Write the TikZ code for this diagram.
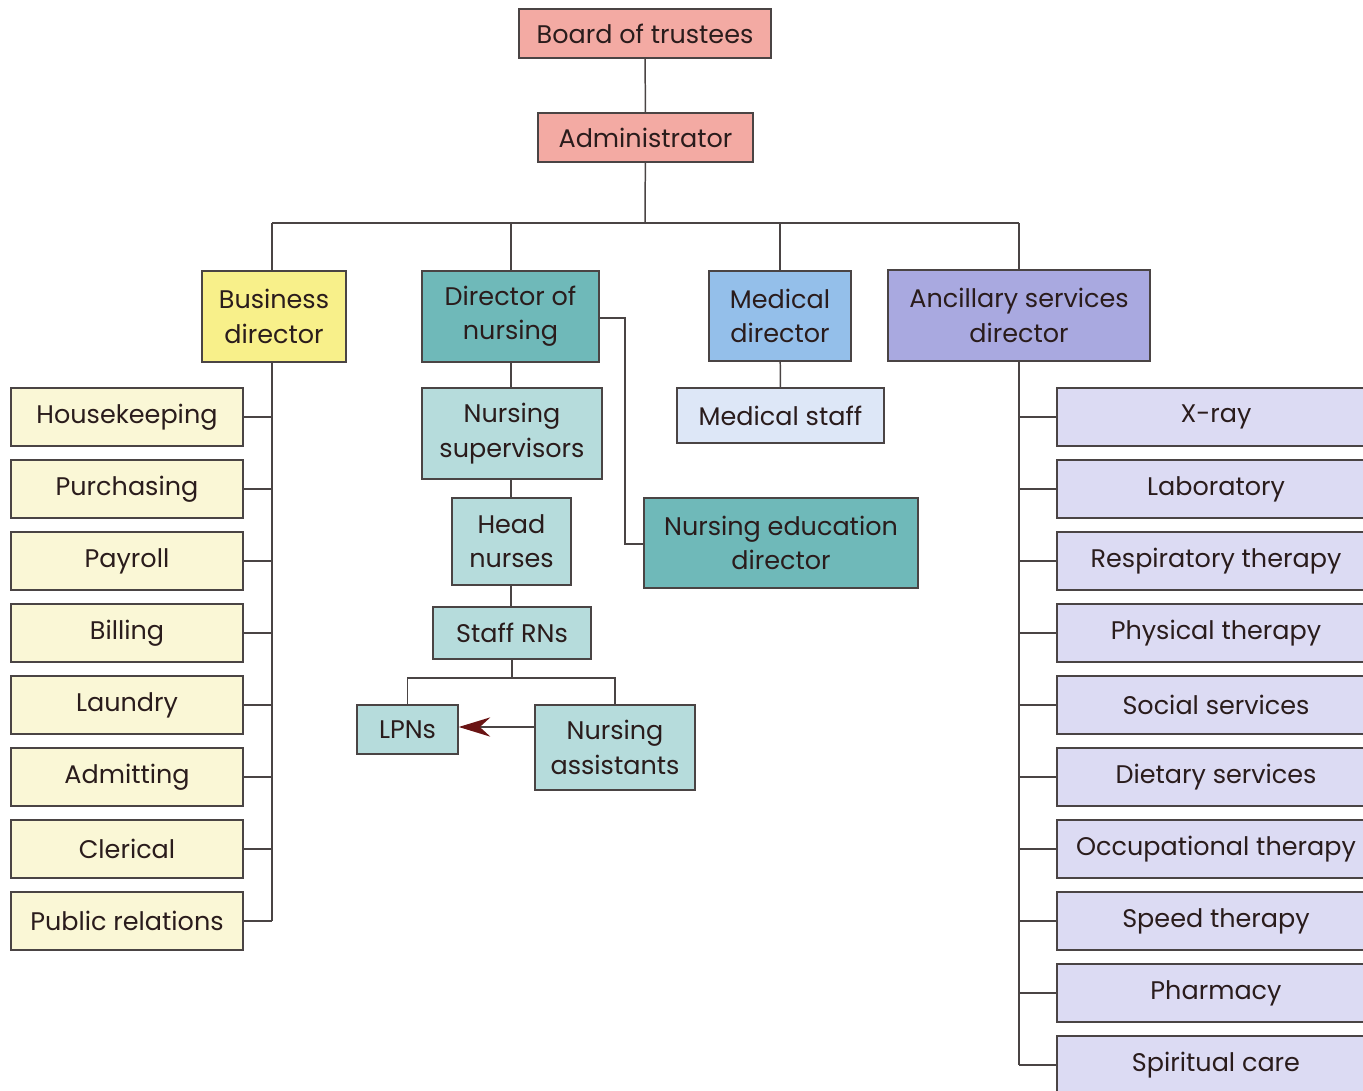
\documentclass[tikz,border=0pt]{standalone}
\usepackage{fontspec}
\setmainfont{Poppins}
\usetikzlibrary{arrows.meta}
\definecolor{pinkf}{HTML}{F3AAA3}
\definecolor{yellowf}{HTML}{F8F08A}
\definecolor{creamf}{HTML}{FAF7D6}
\definecolor{tealf}{HTML}{6FB9B9}
\definecolor{ltealf}{HTML}{B6DCDC}
\definecolor{bluef}{HTML}{94BFEA}
\definecolor{lbluef}{HTML}{DDE7F7}
\definecolor{lavf}{HTML}{A9A9E0}
\definecolor{llavf}{HTML}{DCDBF3}
\definecolor{edgec}{HTML}{4A4444}
\definecolor{txtc}{HTML}{2A1C1C}
\definecolor{arrowred}{HTML}{6A1414}
\tikzset{
  sz/.style 2 args={minimum width=#1*0.02cm, minimum height=#2*0.02cm},
  box/.style={draw=edgec, line width=0.85pt, inner sep=0pt, align=center,
    text=txtc, font=\fontsize{14.5}{19.5}\selectfont},
  conn/.style={draw=edgec, line width=0.85pt},
}
\begin{document}
\begin{tikzpicture}[x=0.02cm, y=-0.02cm]
\useasboundingbox (0,0) rectangle (1363,1091);
\begin{scope}
\clip (0,0) rectangle (1363,1091);
% top
\node[box, fill=pinkf, sz={252}{49}] (board) at (645,33.5) {Board of trustees};
\node[box, fill=pinkf, sz={215}{49}] (admin) at (645.5,137.5) {Administrator};
% directors
\node[box, fill=yellowf, sz={144}{91}] (bus) at (274,316.5) {Business\\director};
\node[box, fill=tealf, sz={177}{91}] (don) at (510.5,316.5) {Director of\\nursing};
\node[box, fill=bluef, sz={142}{90}] (med) at (780,316) {Medical\\director};
\node[box, fill=lavf, sz={262}{91}] (anc) at (1019,315.5) {Ancillary services\\director};
% bus
\coordinate (bus0) at (645,223);
\draw[conn] (board) -- (admin);
\draw[conn] (admin) -- (bus0);
\draw[conn] (272,223) -- (1019,223);
\draw[conn] (bus.north -| 272,0) -- (272,223);
\draw[conn] (don.north -| 511,0) -- (511,223);
\draw[conn] (med.north) -- (med.north |- 0,223);
\draw[conn] (anc.north) -- (anc.north |- 0,223);
% business children
\foreach \n/\t [count=\i from 0] in {hk/Housekeeping, pu/Purchasing, pa/Payroll, bi/Billing, la/Laundry, ad/Admitting, cl/Clerical, pr/Public relations}{
  \node[box, fill=creamf, sz={232}{58}] (\n) at (127,417+72*\i) {\t};
  \draw[conn] (\n.east) -- (272,417+72*\i);
}
\draw[conn] (bus.south -| 272,0) -- (272,921);
% ancillary children
\foreach \n/\t [count=\i from 0] in {xr/X-ray, lab/Laboratory, rt/Respiratory therapy, pt/Physical therapy, ss/Social services, ds/Dietary services, ot/Occupational therapy, sp/Speed therapy, ph/Pharmacy, sc/Spiritual care}{
  \node[box, fill=llavf, sz={318}{58}] (\n) at (1216,417+72*\i) {\t};
  \draw[conn] (\n.west) -- (1019,417+72*\i);
}
\draw[conn] (anc.south) -- (1019,1065);
% medical
\node[box, fill=lbluef, sz={207}{55}] (ms) at (780.5,415.5) {Medical staff};
\draw[conn] (med) -- (ms);
% nursing
\node[box, fill=ltealf, sz={180}{91}] (ns) at (512,433.5) {Nursing\\supervisors};
\node[box, fill=ltealf, sz={119}{87}] (hn) at (511.5,541.5) {Head\\nurses};
\node[box, fill=ltealf, sz={158}{52}] (rn) at (512,633) {Staff RNs};
\node[box, fill=ltealf, sz={101}{49}] (lpn) at (407.5,729.5) {LPNs};
\node[box, fill=ltealf, sz={160}{85}] (na) at (615,747.5) {Nursing\\assistants};
\node[box, fill=tealf, sz={274}{90}] (ned) at (781,543) {Nursing education\\director};
\draw[conn] (don.south -| 511,0) -- (ns.north -| 511,0);
\draw[conn] (ns.south -| 511,0) -- (hn.north -| 511,0);
\draw[conn] (hn.south -| 511,0) -- (rn.north -| 511,0);
\coordinate (rnj) at (512,678);
\draw[conn] (rn.south) -- (rnj);
\draw[conn] (lpn.north) |- (rnj) -| (na.north);
\draw[conn] (don.east |- 0,318) -| (625,544) -- (ned.west |- 0,544);
\draw[conn, -{Stealth[length=18pt, width=11pt, inset=6pt, color=arrowred]}] (na.west |- 0,727) -- (lpn.east |- 0,727);
\end{scope}
\end{tikzpicture}
\end{document}
